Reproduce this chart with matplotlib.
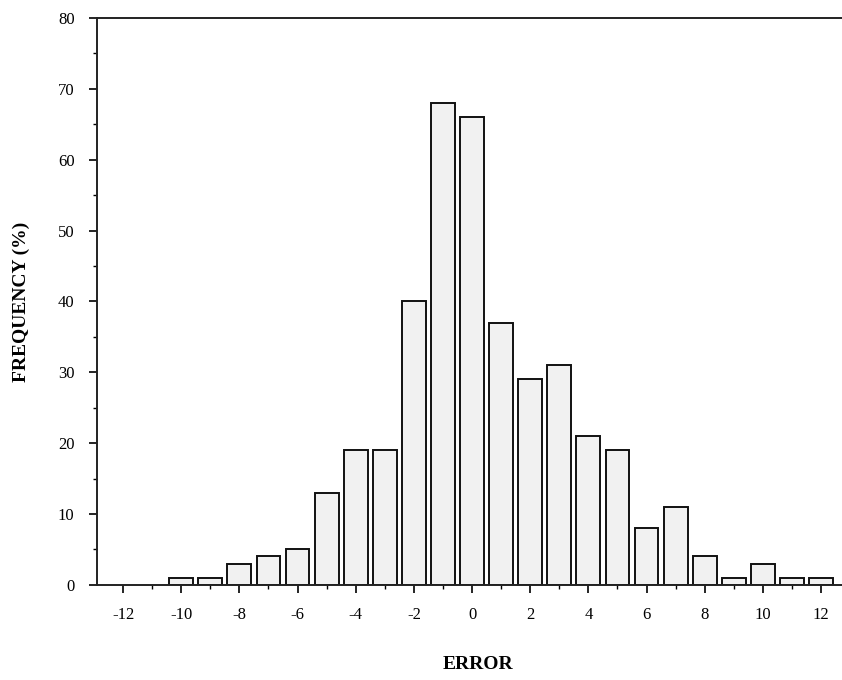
import numpy as np
import matplotlib.pyplot as plt
from matplotlib.ticker import MultipleLocator

# Fehlerverteilung
error = np.arange(-10, 13)
freq = [1, 1, 3, 4, 5, 13, 19, 19, 40, 68, 66, 37, 29, 31, 21, 19, 8, 11, 4, 1, 3, 1, 1]
xticks = np.arange(-12, 13, 2)

plt.rcParams['font.family'] = ['Liberation Serif', 'DejaVu Serif']

fig = plt.figure(figsize=(8.42, 6.8), dpi=100)
ax = fig.add_axes([0.115, 0.14, 0.905, 0.8335])

ax.bar(error, freq, width=0.82, color='#f1f1f1', edgecolor='#111111', linewidth=1.4)

ax.set_xlim(-12.9, 13.3)
ax.set_ylim(0, 80)
ax.set_xticks(xticks)
ax.set_xticklabels([str(v) for v in xticks])
ax.xaxis.set_minor_locator(MultipleLocator(1))
ax.yaxis.set_major_locator(MultipleLocator(10))
ax.yaxis.set_minor_locator(MultipleLocator(5))

for s in ['left', 'bottom', 'top']:
    ax.spines[s].set_linewidth(1.4)
    ax.spines[s].set_color('#222222')
ax.spines['right'].set_visible(False)

ax.tick_params(axis='both', which='major', length=6, width=1.2, labelsize=12, pad=10)
ax.tick_params(axis='both', which='minor', length=3, width=1.0)

ax.set_xlabel('ERROR', fontsize=14, fontweight='bold', labelpad=24)
ax.set_ylabel('FREQUENCY (%)', fontsize=14, fontweight='bold', labelpad=20)

plt.savefig('out.png')
plt.close()
